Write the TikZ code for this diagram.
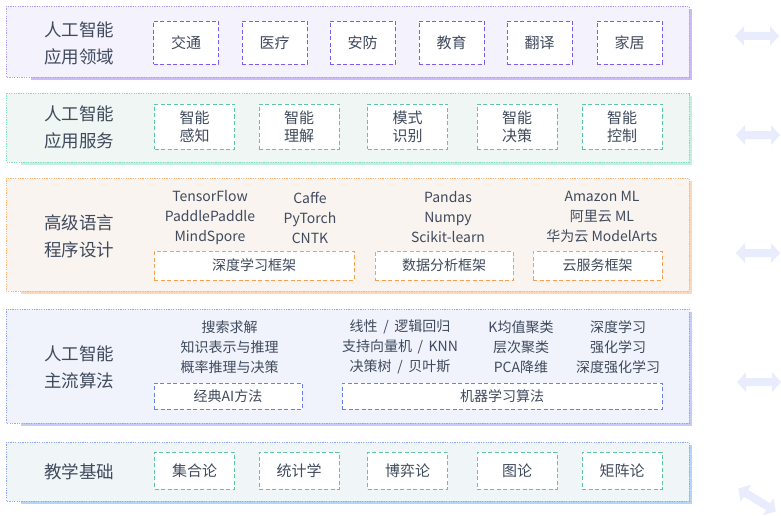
\documentclass[tikz,border=0pt]{standalone}
\usepackage{fontspec}
\setmainfont{Noto Sans CJK SC}
\definecolor{txt}{HTML}{3F4A5C}
\definecolor{fa}{HTML}{F4F2FD}\definecolor{ba}{HTML}{B29CF8}\definecolor{ia}{HTML}{7B5CF0}\definecolor{sa}{HTML}{CBBCF8}
\definecolor{fb}{HTML}{EFF6F3}\definecolor{bb}{HTML}{80DEC0}\definecolor{ib}{HTML}{5CC8A0}\definecolor{sb}{HTML}{C4EFE2}
\definecolor{fc}{HTML}{FAF4F0}\definecolor{bc}{HTML}{F8B478}\definecolor{ic}{HTML}{F5A050}\definecolor{sc}{HTML}{FCD8B8}
\definecolor{fd}{HTML}{F0F3FC}\definecolor{bd}{HTML}{92A6F4}\definecolor{id}{HTML}{6680F0}\definecolor{sd}{HTML}{C4CDF8}
\definecolor{fe}{HTML}{F0F5F8}\definecolor{be}{HTML}{8CA8F8}\definecolor{ie}{HTML}{5CC8A0}\definecolor{se}{HTML}{B4D4F8}
\definecolor{arrowc}{HTML}{E8ECFC}
\tikzset{
  layerbox/.style={draw=#1, line width=0.8pt, dash pattern=on 1.2pt off 1.2pt},
  ibox/.style={draw=#1, fill=white, line width=0.9pt, dash pattern=on 4pt off 2.5pt, inner sep=0pt, text=txt, align=center},
  head/.style={text=txt, font=\fontsize{17.5}{27}\selectfont, align=center, inner sep=0pt},
  smalltxt/.style={text=txt, font=\fontsize{14}{20}\selectfont, align=center, inner sep=0pt},
  boxtxt/.style={font=\fontsize{15}{18}\selectfont},
  labtxt/.style={font=\fontsize{14}{16}\selectfont},
  dblarrow/.style={fill=arrowc},
}
\newcommand{\myarrow}{(-22,0) -- (-13,-10) -- (-13,-4) -- (13,-4) -- (13,-10) -- (22,0) -- (13,10) -- (13,4) -- (-13,4) -- (-13,10) -- cycle}
\newcommand{\wsl}{\hspace{0.4em}/\hspace{0.4em}}
\begin{document}
\begin{tikzpicture}[x=1pt,y=-1pt]
\useasboundingbox (0,0) rectangle (781,516);
% layer 1
\fill[sa] (31,9) rectangle (692,80);
\filldraw[fill=fa, layerbox=ba] (6,6) rectangle (689,77);
% layer 2
\fill[sb] (21,96) rectangle (692,165);
\filldraw[fill=fb, layerbox=bb] (6,93) rectangle (689,162);
% layer 3
\fill[sc] (21,181) rectangle (692,294);
\filldraw[fill=fc, layerbox=bc] (6,178) rectangle (689,291);
% layer 4
\fill[sd] (21,312) rectangle (692,426);
\filldraw[fill=fd, layerbox=bd] (6,309) rectangle (689,423);
% layer 5
\fill[se] (21,445) rectangle (692,504);
\filldraw[fill=fe, layerbox=be] (6,442) rectangle (689,501);

% headings
\node[head] (h1) at (79,43.5) {人工智能\\应用领域};
\node[head] (h2) at (79,127) {人工智能\\应用服务};
\node[head] (h3) at (79,236) {高级语言\\程序设计};
\node[head] (h4) at (79,367.5) {人工智能\\主流算法};
\node[head] (h5) at (79,472) {教学基础};

% layer 1 boxes
\foreach \x/\t [count=\i] in {186/交通,274.5/医疗,362.5/安防,451.5/教育,539.5/翻译,629.5/家居}
  \node[ibox=ia, boxtxt, minimum width=65pt, minimum height=43pt] (a\i) at (\x,42.5) {\t};

% layer 2 boxes
\foreach \x/\t [count=\i] in {194.5/智能\\感知,299/智能\\理解,407.5/模式\\识别,517/智能\\决策,622/智能\\控制}
  \node[ibox=ib, boxtxt, minimum width=80pt, minimum height=45pt] (b\i) at (\x,126.5) {\t};

% layer 3
\node[smalltxt] (c1) at (210,217.5) {TensorFlow\\PaddlePaddle\\MindSpore};
\node[smalltxt] (c2) at (310,217.5) {Caffe\\PyTorch\\CNTK};
\node[smalltxt] (c3) at (448,217.5) {Pandas\\Numpy\\Scikit-learn};
\node[smalltxt] (c4) at (602,217) {Amazon ML\\阿里云 ML\\华为云 ModelArts};
\node[ibox=ic, labtxt, minimum width=200pt, minimum height=29pt] (cb1) at (254,265.5) {深度学习框架};
\node[ibox=ic, labtxt, minimum width=138pt, minimum height=29pt] (cb2) at (444,265.5) {数据分析框架};
\node[ibox=ic, labtxt, minimum width=129pt, minimum height=29pt] (cb3) at (597.5,265.5) {云服务框架};

% layer 4
\node[smalltxt] (d1) at (229.5,347) {搜索求解\\知识表示与推理\\概率推理与决策};
\node[smalltxt] (d2) at (400,347) {线性\wsl 逻辑回归\\支持向量机\wsl KNN\\决策树\wsl 贝叶斯};
\node[smalltxt] (d3) at (521,347) {K均值聚类\\层次聚类\\PCA降维};
\node[smalltxt] (d4) at (618,347) {深度学习\\强化学习\\深度强化学习};
\node[ibox=id, labtxt, minimum width=148pt, minimum height=26pt] (db1) at (228,396) {经典AI方法};
\node[ibox=id, labtxt, minimum width=320pt, minimum height=26pt] (db2) at (502,396) {机器学习算法};

% layer 5 boxes
\foreach \x/\t [count=\i] in {194.5/集合论,299/统计学,407.5/博弈论,517/图论,622/矩阵论}
  \node[ibox=ie, boxtxt, minimum width=80pt, minimum height=37pt] (e\i) at (\x,470.5) {\t};

% arrows
\fill[dblarrow, shift={(757,36)}] \myarrow;
\fill[dblarrow, shift={(758,135)}] \myarrow;
\fill[dblarrow, shift={(758,253)}] \myarrow;
\fill[dblarrow, shift={(759,382)}] \myarrow;
\fill[dblarrow, shift={(757,500)}, rotate=-31] \myarrow;
\end{tikzpicture}
\end{document}
